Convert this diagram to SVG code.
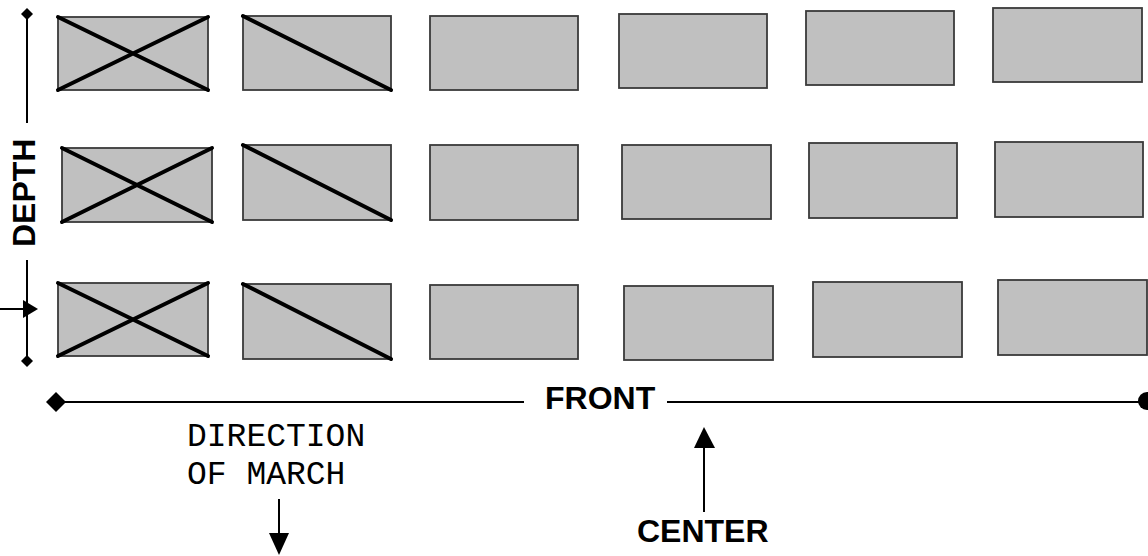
<svg xmlns="http://www.w3.org/2000/svg" width="1148" height="556" viewBox="0 0 1148 556">
<defs>
<style>
.u{fill:#c0c0c0;stroke:#3a3a3a;stroke-width:1.8}
.x{stroke:#000;stroke-width:4;stroke-linecap:round;fill:none}
.ln{stroke:#000;stroke-width:2;fill:none}
.lbl{font-family:"Liberation Sans",Arial,sans-serif;font-weight:bold;font-size:32px;fill:#000}
.mono{font-family:"Liberation Mono","Courier New",monospace;font-size:33px;fill:#000}
</style>
</defs>
<rect width="1148" height="556" fill="#fff"/>
<g id="units">
<g id="r1c1"><rect class="u" x="58" y="17" width="150" height="73"/><path class="x" d="M58 17L208 90M58 90L208 17"/></g>
<g id="r1c2"><rect class="u" x="243" y="16" width="148" height="74"/><path class="x" d="M243 16L391 90"/></g>
<g id="r1c3"><rect class="u" x="430" y="16" width="148" height="74"/></g>
<g id="r1c4"><rect class="u" x="619" y="14" width="148" height="74"/></g>
<g id="r1c5"><rect class="u" x="806" y="11" width="148" height="74"/></g>
<g id="r1c6"><rect class="u" x="993" y="8" width="149" height="74"/></g>
<g id="r2c1"><rect class="u" x="62" y="148" width="150" height="74"/><path class="x" d="M62 148L212 222M62 222L212 148"/></g>
<g id="r2c2"><rect class="u" x="243" y="145" width="148" height="75"/><path class="x" d="M243 145L391 220"/></g>
<g id="r2c3"><rect class="u" x="430" y="145" width="148" height="75"/></g>
<g id="r2c4"><rect class="u" x="622" y="145" width="149" height="74"/></g>
<g id="r2c5"><rect class="u" x="809" y="143" width="148" height="75"/></g>
<g id="r2c6"><rect class="u" x="995" y="142" width="148" height="75"/></g>
<g id="r3c1"><rect class="u" x="58" y="283" width="150" height="73"/><path class="x" d="M58 283L208 356M58 356L208 283"/></g>
<g id="r3c2"><rect class="u" x="243" y="284" width="148" height="75"/><path class="x" d="M243 284L391 359"/></g>
<g id="r3c3"><rect class="u" x="430" y="285" width="148" height="74"/></g>
<g id="r3c4"><rect class="u" x="624" y="286" width="149" height="74"/></g>
<g id="r3c5"><rect class="u" x="813" y="282" width="149" height="75"/></g>
<g id="r3c6"><rect class="u" x="998" y="280" width="149" height="75"/></g>
</g>
<g id="connectors">
<path class="ln" d="M27 14V123M27 260V361"/>
<polygon points="27,8 33,14 27,20 21,14" fill="#000"/>
<polygon points="27,355 33,361 27,367 21,361" fill="#000"/>
<path class="ln" d="M0 309H26"/>
<polygon points="38,309 23,300 23,318" fill="#000"/>
<path class="ln" d="M62 402H524M667 402H1140"/>
<polygon points="56,392 66,402 56,412 46,402" fill="#000"/>
<circle cx="1147" cy="401" r="9" fill="#000"/>
<path class="ln" d="M279 499V536"/>
<polygon points="269,533 289,533 279,555" fill="#000"/>
<path class="ln" d="M704 446V512"/>
<polygon points="694,448 715,448 704,427" fill="#000"/>
</g>
<g id="labels">
<text class="lbl" transform="translate(35 247) rotate(-90)">DEPTH</text>
<text class="lbl" x="545" y="409">FRONT</text>
<text class="lbl" x="637" y="542">CENTER</text>
<text class="mono" x="187" y="446">DIRECTION</text>
<text class="mono" x="187" y="484">OF MARCH</text>
</g>
</svg>
